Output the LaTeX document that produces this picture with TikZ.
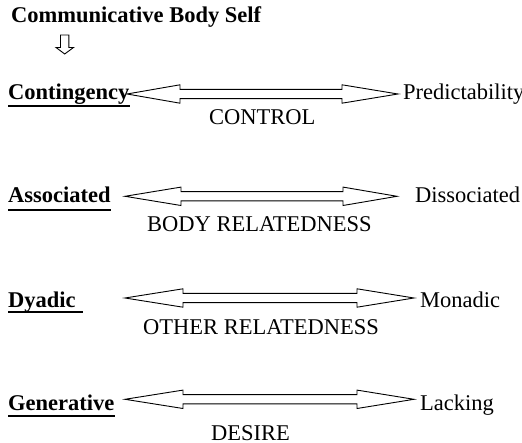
\documentclass[tikz,border=0pt]{standalone}
\usepackage{fontspec}
\setmainfont{Liberation Serif}
\newcommand\blockarrow[5]{%
  \draw[arr] (#2,#1) -- (#3,#1-9.2) -- (#3,#1-4.6) -- (#4,#1-4.6) -- (#4,#1-9.2) -- (#5,#1)
    -- (#4,#1+9.2) -- (#4,#1+4.6) -- (#3,#1+4.6) -- (#3,#1+9.2) -- cycle;}
\begin{document}
\begin{tikzpicture}[x=1pt,y=-1pt,
  txt/.style={inner sep=0pt,anchor=base west,font=\fontsize{22.5}{26}\selectfont},
  bold/.style={txt,font=\fontsize{22.5}{26}\selectfont\bfseries},
  arr/.style={draw=black,line width=0.9pt,line join=miter,fill=white},
  uline/.style={line width=1.2pt}]
\useasboundingbox (0,0) rectangle (522,443);
% title
\node[bold] (title) at (11,23) {Communicative Body Self};
\draw[arr] (60.5,35) -- (68.8,35) -- (68.8,47.5) -- (73.5,47.5) -- (64.7,54) -- (56,47.5) -- (60.5,47.5) -- cycle;
% row 1
\node[bold] (l1) at (8,100) {Contingency};
\node[txt] (r1) at (403,100) {Predictability};
\node[txt] (m1) at (209,125) {CONTROL};
\draw[uline] ([yshift=-6pt]l1.base west) -- ([yshift=-6pt]l1.base east);
\blockarrow{94}{127}{180}{342}{398}
% row 2
\node[bold] (l2) at (8,203) {Associated};
\node[txt] (r2) at (415,203) {Dissociated};
\node[txt] (m2) at (147,231.5) {BODY RELATEDNESS};
\draw[uline] ([yshift=-7pt]l2.base west) -- ([yshift=-7pt]l2.base east);
\blockarrow{196.3}{125}{181}{343}{397}
% row 3
\node[bold] (l3) at (8,308) {Dyadic};
\node[txt] (r3) at (420,308) {Monadic};
\node[txt] (m3) at (143,335) {OTHER RELATEDNESS};
\draw[uline] ([yshift=-4pt]l3.base west) -- ([yshift=-4pt,xshift=7pt]l3.base east);
\blockarrow{298}{125}{183}{357}{414}
% row 4
\node[bold] (l4) at (8,410.5) {Generative};
\node[txt] (r4) at (420,410.5) {Lacking};
\node[txt] (m4) at (211,440) {DESIRE};
\draw[uline] ([yshift=-5.5pt]l4.base west) -- ([yshift=-5.5pt]l4.base east);
\blockarrow{399.3}{125}{183}{357}{414}
\end{tikzpicture}
\end{document}
